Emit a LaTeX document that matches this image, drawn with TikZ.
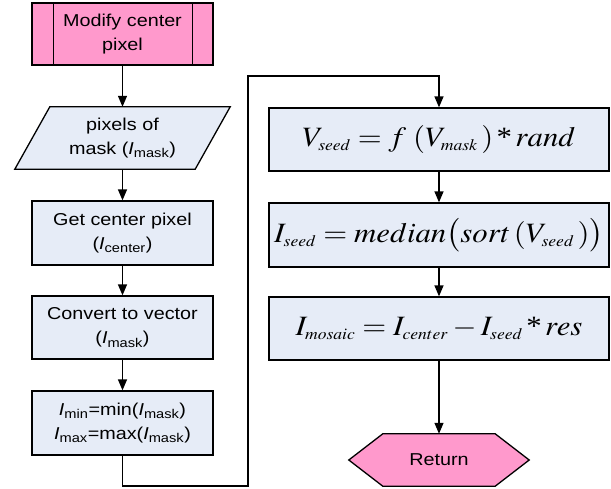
\documentclass[tikz,border=0pt]{standalone}
\usepackage{mathptmx}
\usepackage{graphicx}
\usepackage{fontspec}
\setmainfont[FakeStretch=1.15]{Liberation Sans}
\newfontfamily\tms{Liberation Serif}
\usetikzlibrary{arrows.meta}
\DeclareMathSizes{28}{28}{16}{12}
\definecolor{pinkfill}{RGB}{255,153,204}
\definecolor{bluefill}{RGB}{230,236,247}
\newcommand{\tast}{\mbox{\tms *}}
\newcommand{\wide}[1]{\scalebox{1.1}[1]{#1}}
\tikzset{
  txt/.style={font=\fontsize{17.2}{24}\selectfont, align=center, inner sep=0pt},
  proc/.style={txt, draw, line width=1.3pt, fill=bluefill, minimum width=181pt, minimum height=63pt},
  mbox/.style={proc, minimum width=340pt, font=\fontsize{28}{32}\selectfont},
  arr/.style={-{Triangle[length=11pt,width=9pt]}, line width=1.3pt},
  edge/.style={line width=1.3pt, line join=miter}
}
\begin{document}
\begin{tikzpicture}[x=1pt,y=-1pt]
\useasboundingbox (0,0) rectangle (611,488);
% left column
\node[proc, fill=pinkfill, minimum height=62pt] (start) at (122.5,34) {Modify center\\pixel};
\draw[edge] ([xshift=22pt]start.north west) -- ([xshift=22pt]start.south west);
\draw[edge] ([xshift=-21pt]start.north east) -- ([xshift=-21pt]start.south east);
\node[txt, minimum width=215pt, minimum height=62pt] (mask) at (122.5,138) {};
\path[edge, draw, fill=bluefill] ([xshift=35pt]mask.north west) -- (mask.north east) -- ([xshift=-35pt]mask.south east) -- (mask.south west) -- cycle;
\node[txt] (masktxt) at (mask.center) {pixels of\\mask ({\itshape I}\textsubscript{mask})};
\node[proc, minimum height=64pt] (get) at (122.5,233) {Get center pixel\\({\itshape I}\textsubscript{center})};
\node[proc] (conv) at (122.5,327.5) {Convert to vector\\({\itshape I}\textsubscript{mask})};
\node[proc, minimum height=64pt] (minmax) at (122.5,423) {{\itshape I}\textsubscript{min}=min({\itshape I}\textsubscript{mask})\\{\itshape I}\textsubscript{max}=max({\itshape I}\textsubscript{mask})};
% right column
\node[mbox] (vseed) at (439,139.5) {\wide{$V_{seed}=f\,\left(V_{mask}\,\right)\tast\,rand$}};
\node[mbox, minimum height=64pt] (iseed) at (439,235) {\wide{$I_{seed}=median\bigl(sort\left(V_{seed}\,\right)\bigr)$}};
\node[mbox] (imos) at (439,328.5) {\wide{$I_{mosaic}=I_{center}-I_{seed}\,\tast\,res$}};
\node[txt, minimum width=180pt, minimum height=52pt] (ret) at (439,460) {};
\path[edge, draw, fill=pinkfill] ([xshift=34pt]ret.north west) -- ([xshift=-34pt]ret.north east) -- (ret.east) -- ([xshift=-34pt]ret.south east) -- ([xshift=34pt]ret.south west) -- (ret.west) -- cycle;
\node[txt] (rettxt) at (ret.center) {Return};
% connectors
\coordinate (c1) at (248,486);
\coordinate (c2) at (248,76);
\draw[arr] (start) -- (mask);
\draw[arr] (mask) -- (get);
\draw[arr] (get) -- (conv);
\draw[arr] (conv) -- (minmax);
\draw[arr] (minmax.south) |- (c1) -- (c2) -| (vseed.north);
\draw[arr] (vseed) -- (iseed);
\draw[arr] (iseed) -- (imos);
\draw[arr] (imos) -- (ret);
\end{tikzpicture}
\end{document}
